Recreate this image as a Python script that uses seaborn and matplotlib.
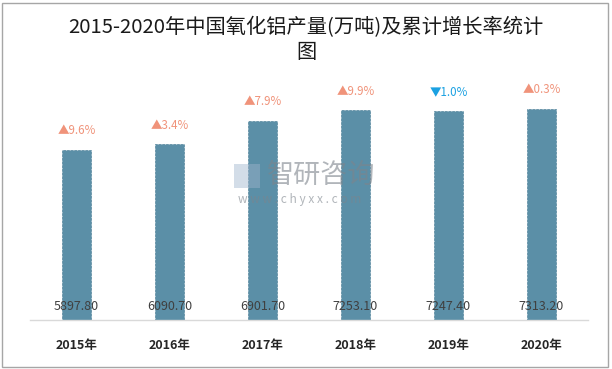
import matplotlib
matplotlib.use("Agg")
import matplotlib.pyplot as plt
import seaborn as sns
import pandas as pd
from matplotlib.patches import Rectangle

years = ["2015年", "2016年", "2017年", "2018年", "2019年", "2020年"]
output = [5897.80, 6090.70, 6901.70, 7253.10, 7247.40, 7313.20]
growth = [9.6, 3.4, 7.9, 9.9, -1.0, 0.3]
title = "2015-2020年中国氧化铝产量(万吨)及累计增长率统计\n图"

sns.set_theme(style="white")
plt.rcParams['font.family'] = ['Noto Sans CJK SC', 'DejaVu Sans']

W, H = 612, 369
fig = plt.figure(figsize=(W / 100, H / 100), dpi=100)
ax = fig.add_axes([30 / W, (H - 320) / H, 558 / W, 260 / H])

df = pd.DataFrame({"year": years, "output": output})
sns.barplot(data=df, x="year", y="output", color="#5b8fa7", saturation=1,
            width=0.31, ax=ax, edgecolor="#54859c", linewidth=0.5,
            linestyle="--", zorder=2)

ax.set_ylim(0, 9000)
ax.set_xlim(-0.5, 5.5)
ax.set_xlabel("")
ax.set_ylabel("")
ax.set_yticks([])
ax.tick_params(axis="x", length=0, pad=14)
for lbl in ax.get_xticklabels():
    lbl.set_fontsize(9)
    lbl.set_fontweight("bold")
    lbl.set_color("#262626")
for side in ["left", "right", "top"]:
    ax.spines[side].set_visible(False)
ax.spines["bottom"].set_color("#d9d9d9")
ax.spines["bottom"].set_linewidth(1)

# value labels at bottom of bars
for i, v in enumerate(output):
    ax.annotate(f"{v:.2f}", xy=(i, 0), xytext=(0, 9.5), textcoords="offset points",
                ha="center", va="center", fontsize=9, color="#404040", zorder=5)

# growth annotations
for i, (v, g) in enumerate(zip(output, growth)):
    if g >= 0:
        txt, col = f"▲{g:.1f}%", "#f0937a"
    else:
        txt, col = f"▼{abs(g):.1f}%", "#1ba1e2"
    ax.annotate(txt, xy=(i, v), xytext=(0, 13.5), textcoords="offset points",
                ha="center", va="center", fontsize=8.3, color=col)

# title
fig.text(0.5, 1 - 40 / H, title, ha="center", va="center", fontsize=14.6,
         color="#1a1a1a", linespacing=1.2)

# watermark
fig.text(267 / W, 1 - 175 / H, "智研咨询", ha="left", va="center", fontsize=19.5,
         color="#7d848c", alpha=0.6, zorder=10)
fig.text(238 / W, 1 - 199 / H, "w w w . c h y x x . c o m", ha="left", va="center",
         fontsize=8.6, color="#7d848c", alpha=0.6, zorder=10)
fig.patches.append(Rectangle((234 / W, 1 - 188 / H), 26 / W, 24 / H,
                             transform=fig.transFigure, facecolor="#9fb4cc",
                             alpha=0.45, edgecolor="none", zorder=10))

# figure border
fig.patches.append(Rectangle((2 / W, 2 / H), (W - 6) / W, (H - 5) / H,
                             transform=fig.transFigure, fill=False,
                             edgecolor="#a6a6a6", linewidth=1, zorder=0))

fig.savefig("out.png", dpi=100)
